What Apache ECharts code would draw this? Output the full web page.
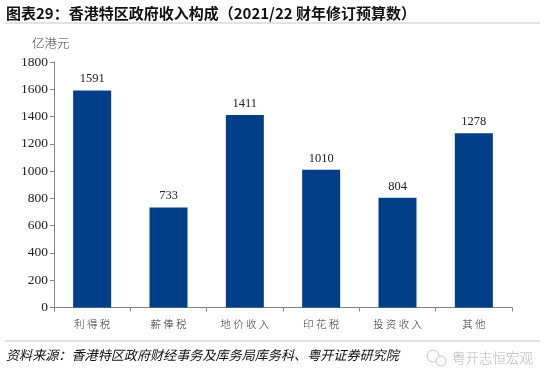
<!DOCTYPE html>
<html><head><meta charset="utf-8">
<style>html,body{margin:0;padding:0;background:#fff}#c{width:550px;height:382px}</style>
<script src="https://cdn.jsdelivr.net/npm/echarts@6/dist/echarts.min.js"></script>
</head><body><div id="c"></div>
<script>
const categories = ['利得税','薪俸税','地价收入','印花税','投资收入','其他'];
const values = [1591,733,1411,1010,804,1278];
const yTicks = {min:0,max:1800,interval:200};
const titleText = '图表29\uFF1A香港特区政府收入构成\uFF082021/22 财年修订预算数\uFF09';
const unitText = '亿港元';
const sourceText = '资料来源\uFF1A香港特区政府财经事务及库务局库务科、粤开证券研究院';
const brandText = '粤开志恒宏观';
const cjk = '"Noto Sans CJK SC"';
const chart = echarts.init(document.getElementById('c'),null,{renderer:'canvas'});
chart.setOption({
  animation:false,
  grid:{left:54,right:38,top:62,bottom:74.5},
  xAxis:{type:'category',data:categories,
    axisLine:{lineStyle:{color:'#868686',width:1}},
    axisTick:{show:true,alignWithLabel:false,length:4,lineStyle:{color:'#868686'}},
    axisLabel:{color:'#333',fontFamily:cjk,fontWeight:300,fontSize:10.5,margin:11,
      formatter:v=>v.split('').join(' ')}},
  yAxis:{type:'value',min:yTicks.min,max:yTicks.max,interval:yTicks.interval,
    splitLine:{show:false},
    axisLine:{show:true,lineStyle:{color:'#868686',width:1}},
    axisTick:{show:true,inside:false,length:4,lineStyle:{color:'#868686'}},
    axisLabel:{color:'#222',fontFamily:'"Liberation Serif"',fontSize:13.5,margin:6,formatter:v=>String(v)}},
  series:[{type:'bar',data:values,barWidth:38,
    itemStyle:{color:'#003f87'},
    label:{show:true,position:'top',distance:5,color:'#222',fontFamily:'"Liberation Serif"',fontSize:12.5}}],
  graphic:[
    {type:'text',left:6,top:6,style:{text:titleText,fill:'#111',font:'bold 15px '+cjk}},
    {type:'rect',shape:{x:5,y:22,width:535,height:2},style:{fill:'#e2e2e2'}},
    {type:'text',left:32,top:37,style:{text:unitText,fill:'#444',font:'300 12.5px '+cjk}},
    {type:'rect',shape:{x:5,y:340,width:535,height:2},style:{fill:'#e2e2e2'}},
    {type:'text',left:6,top:348,style:{text:sourceText,fill:'#111',font:'italic 13.1px '+cjk}},
    {type:'text',left:452,top:351,style:{text:brandText,fill:'#b5b5b5',font:'300 13.5px '+cjk}},
    {type:'circle',shape:{cx:433,cy:356,r:6},style:{fill:'none',stroke:'#c4c4c4',lineWidth:1}},
    {type:'circle',shape:{cx:441,cy:361,r:5},style:{fill:'#fff',stroke:'#c4c4c4',lineWidth:1}}
  ]
});
</script></body></html>
